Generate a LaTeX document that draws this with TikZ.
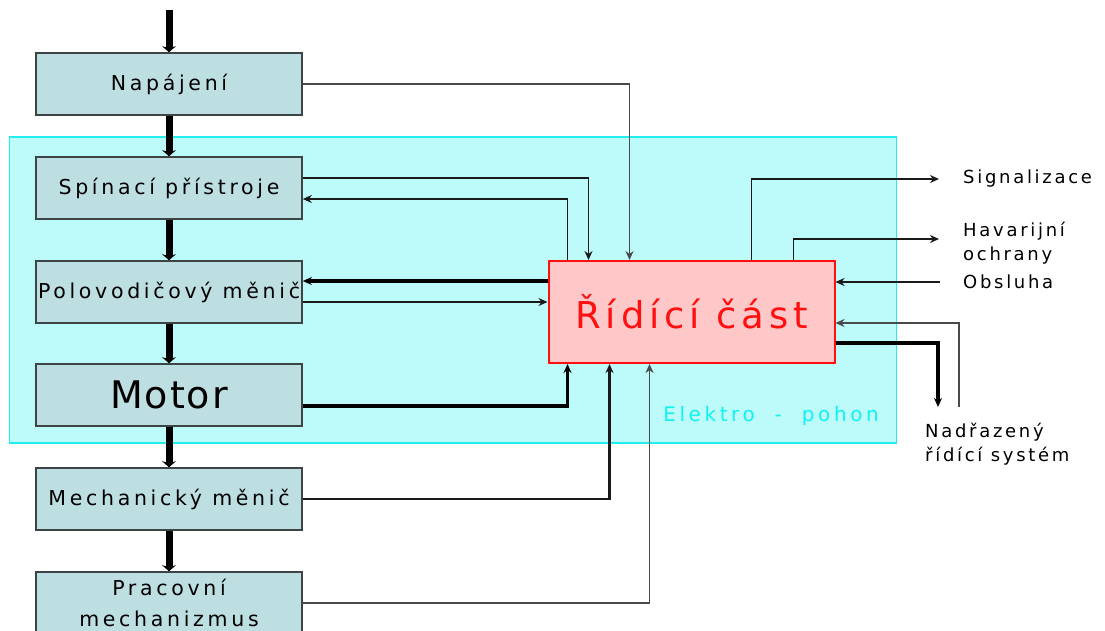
\documentclass[tikz,border=0pt]{standalone}
\usepackage{fontspec}
\setmainfont{DejaVu Sans}
\newfontfamily\blockfont[LetterSpace=18]{DejaVu Sans}
\newfontfamily\ctrlfont[LetterSpace=13]{DejaVu Sans}
\newfontfamily\motorfont[LetterSpace=5]{DejaVu Sans}
\newfontfamily\sidefont[LetterSpace=15]{DejaVu Sans}
\usetikzlibrary{arrows.meta, positioning}
\definecolor{driveFill}{HTML}{BDFAFA}
\definecolor{driveLine}{HTML}{22EEEE}
\definecolor{driveText}{HTML}{10F2F2}
\definecolor{blockFill}{HTML}{BEDFE2}
\definecolor{blockLine}{HTML}{3C4446}
\definecolor{ctrlFill}{HTML}{FFC8C8}
\definecolor{ctrlRed}{HTML}{FF1010}
\definecolor{wireInk}{HTML}{1A1A1A}
\definecolor{wireGray}{HTML}{4A4A4A}

\begin{document}
\begin{tikzpicture}[
        x=1pt,
        y=-1pt,
        >={Stealth[length=9pt,width=8pt]},
        block/.style={rectangle, draw=blockLine, line width=1.6pt, fill=blockFill,
                      align=center, inner sep=0pt, minimum width=266pt,
                      minimum height=62pt,
                      font=\blockfont\fontsize{20.5}{31}\selectfont},
        ctrl/.style={rectangle, draw=ctrlRed, line width=2pt, fill=ctrlFill,
                     text=ctrlRed, inner sep=0pt, minimum width=286pt,
                     minimum height=102pt,
                     font=\ctrlfont\fontsize{37}{40}\selectfont},
        drive/.style={rectangle, draw=driveLine, line width=1.6pt, fill=driveFill,
                      inner sep=0pt, minimum width=887pt, minimum height=306pt},
        side/.style={anchor=west, align=left, inner sep=0pt,
                     font=\sidefont\fontsize{18}{24}\selectfont},
        power/.style={-{Stealth[length=6pt,width=14pt]}, draw=black, line width=7pt},
        wire/.style={->, draw=wireInk, line width=1.8pt},
        graywire/.style={->, draw=wireGray, line width=1.8pt},
        midwire/.style={->, draw=wireInk, line width=2.6pt},
        thickwire/.style={->, draw=black, line width=3.6pt}
    ]
    \useasboundingbox (0,0) rectangle (1105,630);

    % Drive area in the background
    \node[drive] (drive) at (453, 290) {};
    \node[anchor=east, inner sep=0pt, text=driveText,
          font=\blockfont\fontsize{20}{22}\selectfont] (drivelbl) at (879, 416) {Elektro\ \ -\ \ pohon};

    % Power chain
    \node[block] (supply) at (169, 84)  {Napájení};
    \node[block] (switch) at (169, 188) {Spínací přístroje};
    \node[block] (conv)   at (169, 292) {Polovodičový měnič};
    \node[block, font=\motorfont\fontsize{38}{40}\selectfont] (motor) at (169, 395) {Motor};
    \node[block] (mech)   at (169, 499) {Mechanický měnič};
    \node[block] (work)   at (169, 603) {Pracovní\\ mechanizmus};

    % Control unit and outer signals
    \node[ctrl] (ctrl) at (691.5, 312) {Řídící část};
    \node[side] (sig)  at (963, 179) {Signalizace};
    \node[side] (hav)  at (963, 243) {Havarijní\\ ochrany};
    \node[side] (obs)  at (963, 282) {Obsluha};
    \node[side] (sup)  at (925, 444) {Nadřazený\\ řídící systém};
    \coordinate (feed)  at (169, 10);
    \coordinate (upin)  at (959, 407);
    \coordinate (upout) at (938, 407);

    % Main energy flow
    \draw[power] (feed) -- (supply);
    \draw[power] (supply) -- (switch);
    \draw[power] (switch) -- (conv);
    \draw[power] (conv) -- (motor);
    \draw[power] (motor) -- (mech);
    \draw[power] (mech) -- (work);

    % Measurements and commands
    \draw[graywire] (supply.east) -| ([xshift=82pt]ctrl.north west);
    \draw[wire] ([yshift=10pt]switch.east) -| ([xshift=41pt]ctrl.north west);
    \draw[wire] ([xshift=20pt]ctrl.north west) |- ([yshift=-11pt]switch.east);
    \draw[thickwire] ([yshift=31pt]ctrl.west) -- ([yshift=11pt]conv.east);
    \draw[wire] ([yshift=-10pt]conv.east) -- ([yshift=10pt]ctrl.west);
    \draw[thickwire] ([yshift=-11pt]motor.east) -| ([xshift=20pt]ctrl.south west);
    \draw[midwire] (mech.east) -| ([xshift=62pt]ctrl.south west);
    \draw[graywire] (work.east) -| ([xshift=102pt]ctrl.south west);

    % Outer interfaces
    \draw[wire] ([xshift=204pt]ctrl.north west) |- ([xshift=-24pt]sig.west);
    \draw[wire] ([xshift=246pt]ctrl.north west) |- ([xshift=-24pt,yshift=4pt]hav.west);
    \draw[midwire] ([xshift=-23pt]obs.west) -- ([yshift=30pt]ctrl.east);
    \draw[graywire] (upin) |- ([yshift=-11pt]ctrl.east);
    \draw[thickwire] ([yshift=-31pt]ctrl.east) -| (upout);

\end{tikzpicture}
\end{document}
